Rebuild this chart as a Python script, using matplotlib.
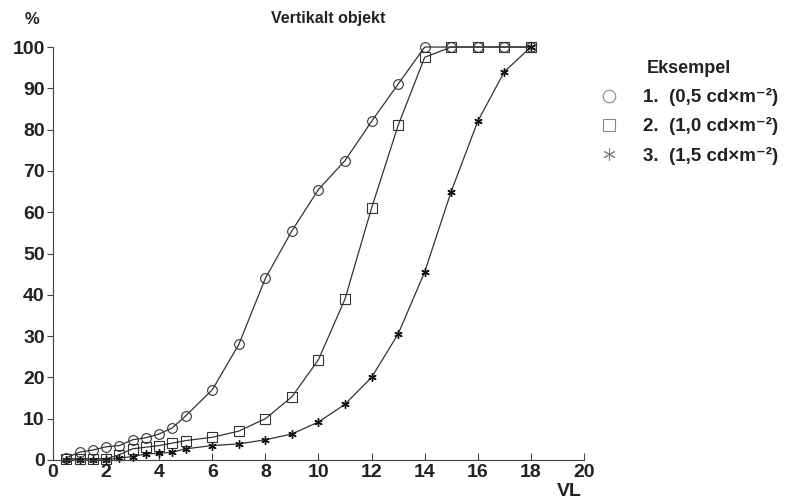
import matplotlib
matplotlib.use("Agg")
import matplotlib.pyplot as plt

plt.rcParams['font.family'] = ['Liberation Sans', 'DejaVu Sans']

# VL-verdier og andel (%) for de tre eksemplene
x1 = [0.5, 1, 1.5, 2, 2.5, 3, 3.5, 4, 4.5, 5, 6, 7, 8, 9, 10, 11, 12, 13, 14, 15, 16, 17, 18]
y1 = [0.5, 1.9, 2.4, 3.2, 3.5, 4.9, 5.4, 6.3, 7.8, 10.7, 17, 28, 44, 55.5, 65.5, 72.5, 82, 91, 100, 100, 100, 100, 100]
x2 = [0.5, 1, 1.5, 2, 2.5, 3, 3.5, 4, 4.5, 5, 6, 7, 8, 9, 10, 11, 12, 13, 14, 15, 16, 17, 18]
y2 = [0.3, 0.3, 0.3, 0.3, 1.3, 2.7, 3.1, 3.5, 4.1, 4.7, 5.5, 7, 10, 15.3, 24.3, 39, 61, 81, 97.5, 100, 100, 100, 100]
x3 = [0.5, 1, 1.5, 2, 2.5, 3, 3.5, 4, 4.5, 5, 6, 7, 8, 9, 10, 11, 12, 13, 14, 15, 16, 17, 18]
y3 = [0, 0, 0, 0, 0.5, 0.8, 1.5, 1.6, 1.9, 2.7, 3.5, 3.9, 4.9, 6.3, 9.2, 13.5, 20, 30.5, 45.5, 65, 82, 94, 100]

labels = ['1.  (0,5 cd×m⁻²)', '2.  (1,0 cd×m⁻²)', '3.  (1,5 cd×m⁻²)']

fig = plt.figure(figsize=(7.88, 5.03), dpi=100)
ax = fig.add_axes([0.0673, 0.0855, 0.6737, 0.821])

ax.plot(x1, y1, color='#333333', lw=0.9, marker='o', ms=7, mfc='none', mec='#333333', mew=0.8,
        label=labels[0], clip_on=False)
ax.plot(x2, y2, color='#333333', lw=0.9, marker='s', ms=7, mfc='none', mec='#333333', mew=0.8,
        label=labels[1], clip_on=False)
ax.plot(x3, y3, color='#333333', lw=0.9, marker=(6, 2, 0), ms=6, mec='#111111', mew=1.0,
        label=labels[2], clip_on=False)

ax.set_xlim(0, 20)
ax.set_ylim(0, 100)
ax.set_xticks(range(0, 21, 2))
ax.set_yticks(range(0, 101, 10))
ax.spines['top'].set_visible(False)
ax.spines['right'].set_visible(False)
for s in ['left', 'bottom']:
    ax.spines[s].set_linewidth(0.8)
    ax.spines[s].set_color('#444444')
ax.tick_params(axis='x', direction='in', length=5, labelsize=14, pad=3, color='#444444')
ax.tick_params(axis='y', direction='out', length=4, labelsize=14, pad=2, color='#444444')
for lbl in ax.get_xticklabels() + ax.get_yticklabels():
    lbl.set_fontweight('bold')
    lbl.set_color('#222222')

fig.text(0.040, 0.962, '%', fontsize=12, fontweight='bold', ha='center', va='center', color='#222222')
fig.text(0.417, 0.963, 'Vertikalt objekt', fontsize=11.5, fontweight='bold', ha='center', va='center', color='#222222')
fig.text(0.722, 0.023, 'VL', fontsize=14, fontweight='bold', ha='center', va='center', color='#222222')

leg = ax.legend(loc='upper left', bbox_to_anchor=(0.998, 1.01), frameon=False, title='Eksempel',
                fontsize=13.5, title_fontsize=13, handlelength=1.0, handletextpad=1.3, labelspacing=0.6)
leg.get_title().set_fontweight('bold')
leg.get_title().set_color('#222222')
for t in leg.get_texts():
    t.set_fontweight('bold')
    t.set_color('#222222')
for h in leg.legend_handles:
    h.set_linestyle('none')
    h.set_markeredgecolor('#888888')
    h.set_markersize(9)
    h.set_markeredgewidth(0.8)

plt.savefig('out.png', dpi=100)
